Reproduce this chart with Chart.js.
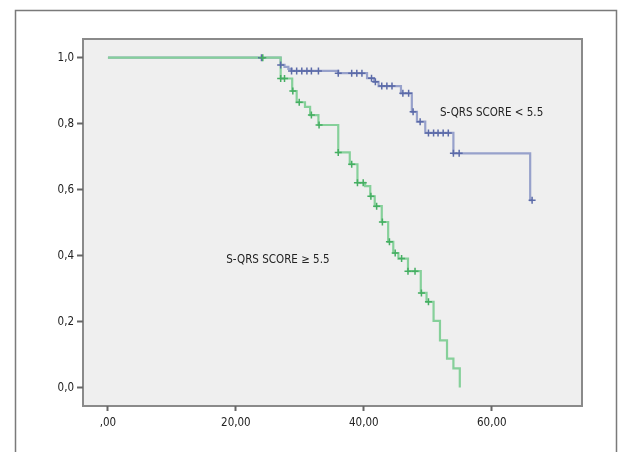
<!DOCTYPE html>
<html>
<head>
<meta charset="utf-8">
<script src="https://cdn.jsdelivr.net/npm/chart.js@4/dist/chart.umd.min.js"></script>
<style>
  html, body { margin: 0; padding: 0; background: #fff; }
  #wrap { width: 620px; height: 452px; position: relative; }
</style>
</head>
<body>
<div id="wrap"><canvas id="km"></canvas></div>
<script>
// Kaplan-Meier, survival steps
const lowTimes     = [0, 27.0, 27.6, 28.2, 28.7, 36.0, 40.5, 41.6, 42.3, 45.8, 47.5, 48.3, 49.6, 54.0, 66.0]
const lowSurv      = [1.0, 0.978, 0.972, 0.966, 0.960, 0.953, 0.938, 0.927, 0.914, 0.892, 0.836, 0.806, 0.772, 0.710, 0.568]
const lowCensored  = [24.0, 27.0, 28.7, 29.5, 30.3, 31.1, 31.8, 32.9, 36.0, 38.1, 38.9, 39.7, 41.2, 41.8,
                      42.8, 43.6, 44.4, 46.1, 47.0, 47.7, 48.8, 50.1, 50.9, 51.6, 52.4, 53.2, 54.0, 54.9, 66.3]

const highTimes    = [0, 27.0, 28.8, 29.5, 30.8, 31.6, 32.9, 36.0, 37.8, 39.0, 40.2, 41.0, 41.7, 42.8, 43.8,
                      44.6, 45.4, 46.9, 48.9, 49.8, 50.9, 51.9, 53.0, 54.0, 55.0]
const highSurv     = [1.0, 0.937, 0.899, 0.865, 0.851, 0.826, 0.796, 0.713, 0.677, 0.621, 0.611, 0.580, 0.550, 0.502, 0.442,
                      0.408, 0.391, 0.353, 0.287, 0.260, 0.202, 0.143, 0.088, 0.058, 0.0]
const highCensored = [24.2, 27.0, 27.6, 28.9, 29.9, 31.8, 33.0, 36.0, 38.1, 39.0, 39.9, 41.1, 42.0, 42.9, 44.0,
                      44.9, 45.9, 46.9, 48.0, 49.0, 50.1]

const yTicks = [0, 0.2, 0.4, 0.6, 0.8, 1.0]
const xTicks = [0, 20, 40, 60]
const xTickLabels = [',00', '20,00', '40,00', '60,00']

const FONT = "'Liberation Sans Narrow', 'DejaVu Sans Condensed', 'Liberation Sans', sans-serif"

function survAt(times, surv, t) {
  let s = surv[0]
  times.forEach((ti, i) => { if (ti <= t) s = surv[i] })
  return s
}

function stepData(times, surv, endT) {
  const pts = times.map((t, i) => ({ x: t, y: surv[i] }))
  if (endT > times[times.length - 1]) pts.push({ x: endT, y: surv[surv.length - 1] })
  return pts
}

const censorPts = (times, surv, cens) => cens.map(t => ({ x: t, y: survAt(times, surv, t) }))

// frame, plot panel and in-plot labels
const decor = {
  id: 'decor',
  beforeDraw(chart) {
    const { ctx, chartArea: a } = chart
    ctx.save()
    ctx.strokeStyle = '#7a7a7a'
    ctx.lineWidth = 1.5
    ctx.beginPath()
    ctx.moveTo(15.5, 460); ctx.lineTo(15.5, 10.5); ctx.lineTo(616.5, 10.5); ctx.lineTo(616.5, 460)
    ctx.stroke()
    ctx.fillStyle = '#efefef'
    ctx.fillRect(a.left, a.top, a.right - a.left, a.bottom - a.top)
    ctx.strokeStyle = '#8a8a8a'
    ctx.lineWidth = 2
    ctx.strokeRect(a.left, a.top, a.right - a.left, a.bottom - a.top)
    ctx.restore()
  },
  afterDatasetsDraw(chart) {
    const { ctx, scales: { x, y } } = chart
    ctx.save()
    ctx.fillStyle = '#222'
    ctx.font = `11.5px ${FONT}`
    ctx.textBaseline = 'middle'
    ctx.fillText('S-QRS SCORE < 5.5', x.getPixelForValue(51.9), y.getPixelForValue(0.833))
    ctx.fillText('S-QRS SCORE \u2265 5.5', x.getPixelForValue(18.5), y.getPixelForValue(0.388))
    ctx.restore()
  }
}

new Chart(document.getElementById('km'), {
  type: 'line',
  data: {
    datasets: [
      {
        label: 'S-QRS SCORE < 5.5',
        data: stepData(lowTimes, lowSurv, 66.3),
        stepped: 'before',
        borderColor: '#97a1cb',
        borderWidth: 2.2,
        pointRadius: 0,
        order: 3
      },
      {
        label: 'S-QRS SCORE ≥ 5.5',
        data: stepData(highTimes, highSurv, 55.0),
        stepped: 'before',
        borderColor: '#86d09a',
        borderWidth: 2.2,
        pointRadius: 0,
        order: 2
      },
      {
        type: 'scatter',
        data: censorPts(lowTimes, lowSurv, lowCensored),
        pointStyle: 'cross',
        pointRadius: 3.5,
        borderColor: '#5b6aa8',
        borderWidth: 1.5,
        order: 1
      },
      {
        type: 'scatter',
        data: censorPts(highTimes, highSurv, highCensored),
        pointStyle: 'cross',
        pointRadius: 3.5,
        borderColor: '#45ae62',
        borderWidth: 1.5,
        order: 0
      }
    ]
  },
  options: {
    responsive: true,
    maintainAspectRatio: false,
    animation: false,
    layout: { padding: { left: 0, top: 39, right: 38, bottom: 0 } },
    plugins: { legend: { display: false }, tooltip: { enabled: false } },
    scales: {
      x: {
        type: 'linear',
        min: -3.9,
        max: 74.1,
        afterBuildTicks: s => { s.ticks = xTicks.map(v => ({ value: v })) },
        afterFit: s => { s.height = 46 },
        ticks: {
          color: '#222',
          font: { family: FONT, size: 11.5 },
          padding: 5,
          maxRotation: 0,
          callback: v => xTickLabels[xTicks.indexOf(v)]
        },
        grid: { drawOnChartArea: false, drawTicks: true, tickLength: 5, tickColor: '#666', tickWidth: 2 },
        border: { display: false }
      },
      y: {
        type: 'linear',
        min: -0.0558,
        max: 1.0567,
        afterBuildTicks: s => { s.ticks = yTicks.map(v => ({ value: v })) },
        afterFit: s => { s.width = 83 },
        ticks: {
          color: '#222',
          font: { family: FONT, size: 11.5 },
          padding: 3,
          callback: v => v.toFixed(1).replace('.', ',')
        },
        grid: { drawOnChartArea: false, drawTicks: true, tickLength: 6, tickColor: '#666', tickWidth: 2 },
        border: { display: false }
      }
    }
  },
  plugins: [decor]
})
</script>
</body>
</html>
